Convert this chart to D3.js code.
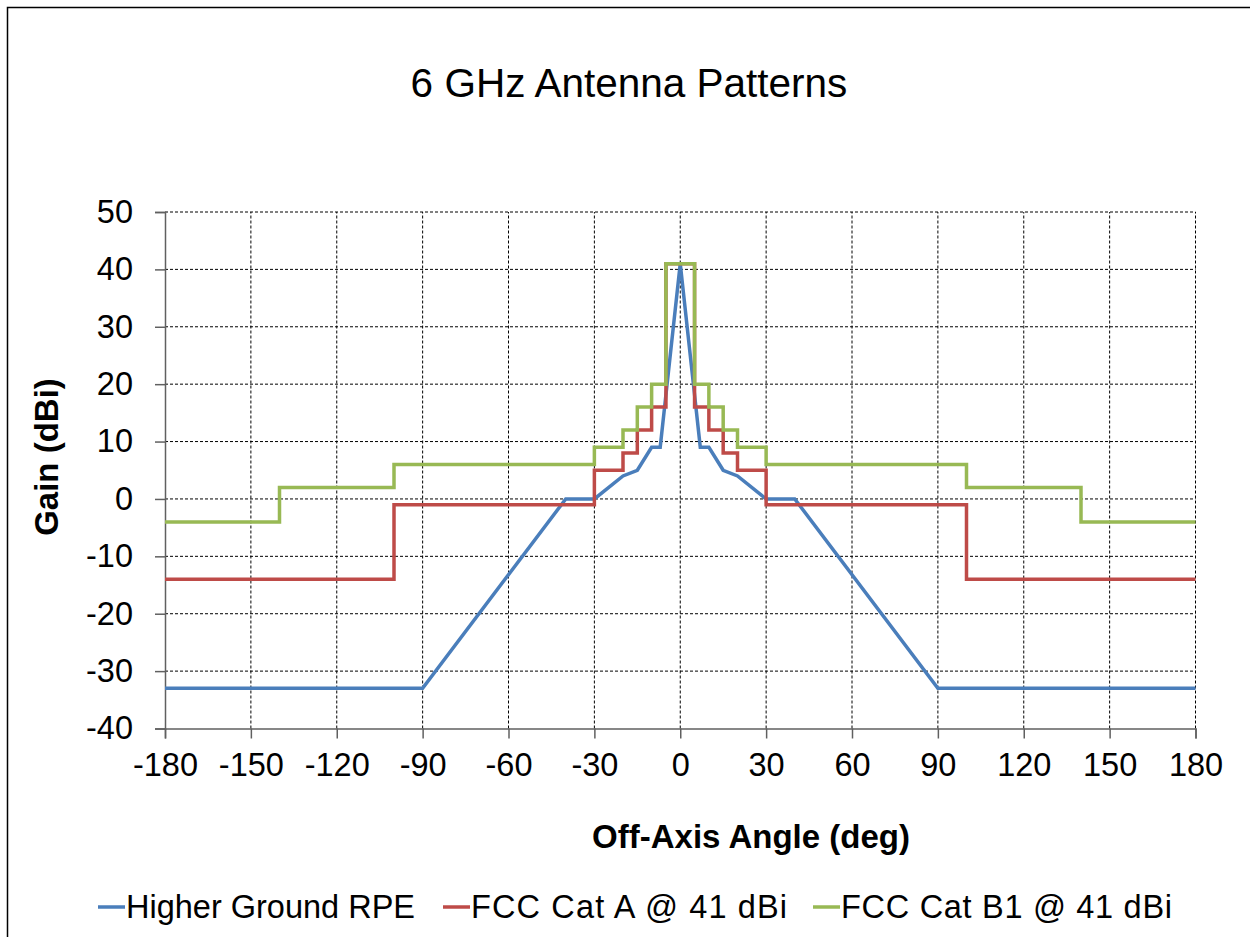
<!DOCTYPE html>
<html>
<head>
<meta charset="utf-8">
<script src="https://cdn.jsdelivr.net/npm/d3@7"></script>
<style>
  html, body { margin: 0; padding: 0; background: #fff; }
  svg { display: block; }
  text { font-family: "Liberation Sans", Arial, sans-serif; fill: #000; }
</style>
</head>
<body>
<svg id="chart" width="1250" height="937"></svg>
<script>
// ---- data ----
const title = "6 GHz Antenna Patterns";
const xTitle = "Off-Axis Angle (deg)";
const yTitle = "Gain (dBi)";
const xTicks = [-180, -150, -120, -90, -60, -30, 0, 30, 60, 90, 120, 150, 180];
const yTicks = [-40, -30, -20, -10, 0, 10, 20, 30, 40, 50];
const seriesNames = ["Higher Ground RPE", "FCC Cat A @ 41 dBi", "FCC Cat B1 @ 41 dBi"];
const seriesColors = ["#4A7EBB", "#BE4B48", "#98B954"];

// Higher Ground RPE (piecewise linear)
const rpeAngles = [-180, -90, -40, -30, -20, -15, -10, -7, 0, 7, 10, 15, 20, 30, 40, 90, 180];
const rpeGain   = [-33, -33, 0, 0, 4, 5, 9, 9, 41, 9, 9, 5, 4, 0, 0, -33, -33];

// FCC Cat A (step: gain holds from angle to next angle)
const catAAngles = [-180, -100, -30, -20, -15, -10, -5, 5, 10, 15, 20, 30, 100, 180];
const catAGain   = [-14, -1, 5, 8, 12, 16, 41, 16, 12, 8, 5, -1, -14, -14];

// FCC Cat B1 (step)
const catBAngles = [-180, -140, -100, -30, -20, -15, -10, -5, 5, 10, 15, 20, 30, 100, 140, 180];
const catBGain   = [-4, 2, 6, 9, 12, 16, 20, 41, 20, 16, 12, 9, 6, 2, -4, -4];

// ---- layout ----
const svg = d3.select("#chart");
const x = d3.scaleLinear().domain([-180, 180]).range([165, 1195.5]);
const y = d3.scaleLinear().domain([-40, 50]).range([728.5, 212]);

// outer chart border
svg.append("rect").attr("x", 7.5).attr("y", 7.5).attr("width", 1260).attr("height", 960)
  .attr("fill", "none").attr("stroke", "#000").attr("stroke-width", 1.5);

// title
svg.append("text").attr("x", 629).attr("y", 97).attr("text-anchor", "middle")
  .style("font-size", "40.5px").text(title);

// gridlines
const grid = svg.append("g");
grid.selectAll("line.h").data(yTicks.filter(d => d > -40)).enter().append("line")
  .attr("x1", x(-180)).attr("x2", x(180)).attr("y1", d => y(d)).attr("y2", d => y(d))
  .attr("stroke", "#000").attr("stroke-width", 1).attr("stroke-dasharray", "3,2");
grid.selectAll("line.v").data(xTicks.filter(d => d > -180)).enter().append("line")
  .attr("y1", y(-40)).attr("y2", y(50)).attr("x1", d => x(d)).attr("x2", d => x(d))
  .attr("stroke", "#000").attr("stroke-width", 1).attr("stroke-dasharray", "3,2");

// axes
const fmt = d => String(d);
const xAxis = d3.axisBottom(x).tickValues(xTicks).tickFormat(fmt).tickSize(10).tickPadding(14);
const yAxis = d3.axisLeft(y).tickValues(yTicks).tickFormat(fmt).tickSize(10).tickPadding(22);
const gx = svg.append("g").attr("transform", `translate(0,${y(-40)})`).call(xAxis);
const gy = svg.append("g").attr("transform", `translate(${x(-180)},0)`).call(yAxis);
[gx, gy].forEach(g => {
  g.select(".domain").attr("stroke", "#606060").attr("stroke-width", 1.5);
  g.selectAll(".tick line").attr("stroke", "#606060").attr("stroke-width", 1.5);
  g.selectAll(".tick text").style("font-size", "32.5px")
    .style("font-family", '"Liberation Sans", Arial, sans-serif').attr("fill", "#000");
});

// axis titles
svg.append("text").attr("x", 751).attr("y", 848).attr("text-anchor", "middle")
  .style("font-size", "33px").style("font-weight", "bold").text(xTitle);
svg.append("text").attr("transform", "translate(58,457) rotate(-90)").attr("text-anchor", "middle")
  .style("font-size", "33px").style("font-weight", "bold").text(yTitle);

// series
const toPts = (a, g) => a.map((v, i) => [v, g[i]]);
const linear = d3.line().x(d => x(d[0])).y(d => y(d[1]));
const step = d3.line().x(d => x(d[0])).y(d => y(d[1])).curve(d3.curveStepAfter);
const series = [
  { pts: toPts(rpeAngles, rpeGain), gen: linear },
  { pts: toPts(catAAngles, catAGain), gen: step },
  { pts: toPts(catBAngles, catBGain), gen: step }
];
series.forEach((s, i) => {
  svg.append("path").attr("d", s.gen(s.pts)).attr("fill", "none")
    .attr("stroke", seriesColors[i]).attr("stroke-width", 3.5)
    .attr("stroke-linejoin", "miter");
});

// legend
const legendX = [98, 443, 813];
const legendTextLen = [289, 316, 331];
const leg = svg.append("g");
seriesNames.forEach((name, i) => {
  leg.append("line").attr("x1", legendX[i]).attr("x2", legendX[i] + 27)
    .attr("y1", 907).attr("y2", 907).attr("stroke", seriesColors[i]).attr("stroke-width", 3.5);
  leg.append("text").attr("x", legendX[i] + 28).attr("y", 918)
    .attr("textLength", legendTextLen[i]).attr("lengthAdjust", "spacing")
    .style("font-size", "32.5px").text(name);
});
</script>
</body>
</html>
